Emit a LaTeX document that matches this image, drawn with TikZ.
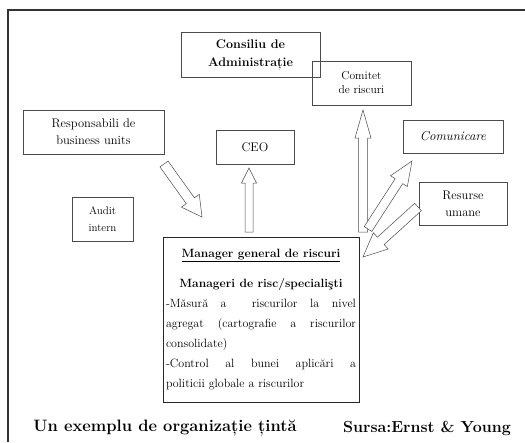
\documentclass[tikz,border=0pt]{standalone}
\usepackage{fontspec}
\usepackage{tikz}
\usetikzlibrary{calc}

% hollow block arrow between two named points
\newcommand{\BlockEdge}[5]{%
  \coordinate (hb) at ($(#2)!#5!(#1)$);
  \filldraw[ArrowStyle] ($(#1)!#3!90:(#2)$) -- ($(hb)!#3!90:(#2)$) -- ($(hb)!#4!90:(#2)$) -- (#2)
    -- ($(hb)!#4!-90:(#2)$) -- ($(hb)!#3!-90:(#2)$) -- ($(#1)!#3!-90:(#2)$) -- cycle;}

\begin{document}
\begin{tikzpicture}[x=1pt,y=-1pt]
		\tikzstyle{BoxStyle}=[draw=black!70,line width=0.5pt,inner sep=0pt,align=center,text=black,
		                      font=\fontsize{12.5}{17}\selectfont]
		\tikzstyle{ArrowStyle}=[draw=black!70,fill=white,line width=0.5pt]
		\tikzstyle{NoteStyle}=[text=black,font=\fontsize{16.5}{18}\selectfont\bfseries]
		\useasboundingbox (0,0) rectangle (525,442);
		% frame
		\draw[line width=1.6pt,black!80] (8,442) -- (8,10) -- (525,10);
		\node[BoxStyle,minimum width=139pt,minimum height=45pt,font=\fontsize{12.5}{18}\selectfont\bfseries] (board) at (250.5,54.5) {Consiliu de\\Administrație};
		\node[BoxStyle,minimum width=99pt,minimum height=44pt,font=\fontsize{11.5}{14}\selectfont] (comm) at (361.5,83) {Comitet\\de riscuri};
		\node[BoxStyle,minimum width=141pt,minimum height=44pt] (resp) at (93.5,132) {Responsabili de\\business units};
		\node[BoxStyle,minimum width=78pt,minimum height=34pt] (ceo) at (255,147) {CEO};
		\node[BoxStyle,minimum width=100pt,minimum height=33pt,font=\fontsize{13}{17}\selectfont\itshape] (com) at (453,136.5) {Comunicare};
		\node[BoxStyle,minimum width=88pt,minimum height=43pt] (hr) at (463,203.5) {Resurse\\umane};
		\node[BoxStyle,minimum width=61pt,minimum height=44pt,font=\fontsize{11}{17}\selectfont] (audit) at (102.5,219) {Audit\\intern};
		\node[draw=black!85,line width=0.6pt,inner sep=3pt,text=black,minimum width=196pt,minimum height=165pt] (mgr) at (261,319.5)
		{\begin{minipage}{190pt}\fontsize{12}{20}\selectfont
		{\centering\bfseries\underline{Manager general de riscuri}\par}
		\vspace{10pt}
		{\centering\bfseries Manageri de risc/specialişti\par}
		-Măsură a\ \ riscurilor la nivel\linebreak agregat (cartografie a riscurilor\linebreak consolidate)\par
		-Control al bunei aplicări a\linebreak politicii globale a riscurilor
		\end{minipage}};
		\node[NoteStyle] (title) at (165,428) {Un exemplu de organizație țintă};
		\node[NoteStyle,font=\fontsize{16}{18}\selectfont\bfseries] (source) at (427,428) {Sursa:Ernst \& Young};
		% arrow ends
		\coordinate (respout) at (164,164);
		\coordinate (mgrin) at (202,217);
		\coordinate (ceoout) at (249,232);
		\coordinate (ceoin) at (249,168);
		\coordinate (commout) at (363,232);
		\coordinate (commin) at (363,110);
		\coordinate (comout) at (368,229);
		\coordinate (comin) at (412,161);
		\coordinate (hrout) at (418,207);
		\coordinate (hrin) at (363,257);
		\BlockEdge{respout}{mgrin}{5pt}{11pt}{20pt}
		\BlockEdge{ceoout}{ceoin}{4pt}{7.5pt}{15pt}
		\BlockEdge{commout}{commin}{4.5pt}{8pt}{28pt}
		\BlockEdge{comout}{comin}{4.5pt}{10pt}{24pt}
		\BlockEdge{hrout}{hrin}{5pt}{11pt}{24pt}
\end{tikzpicture}
\end{document}
